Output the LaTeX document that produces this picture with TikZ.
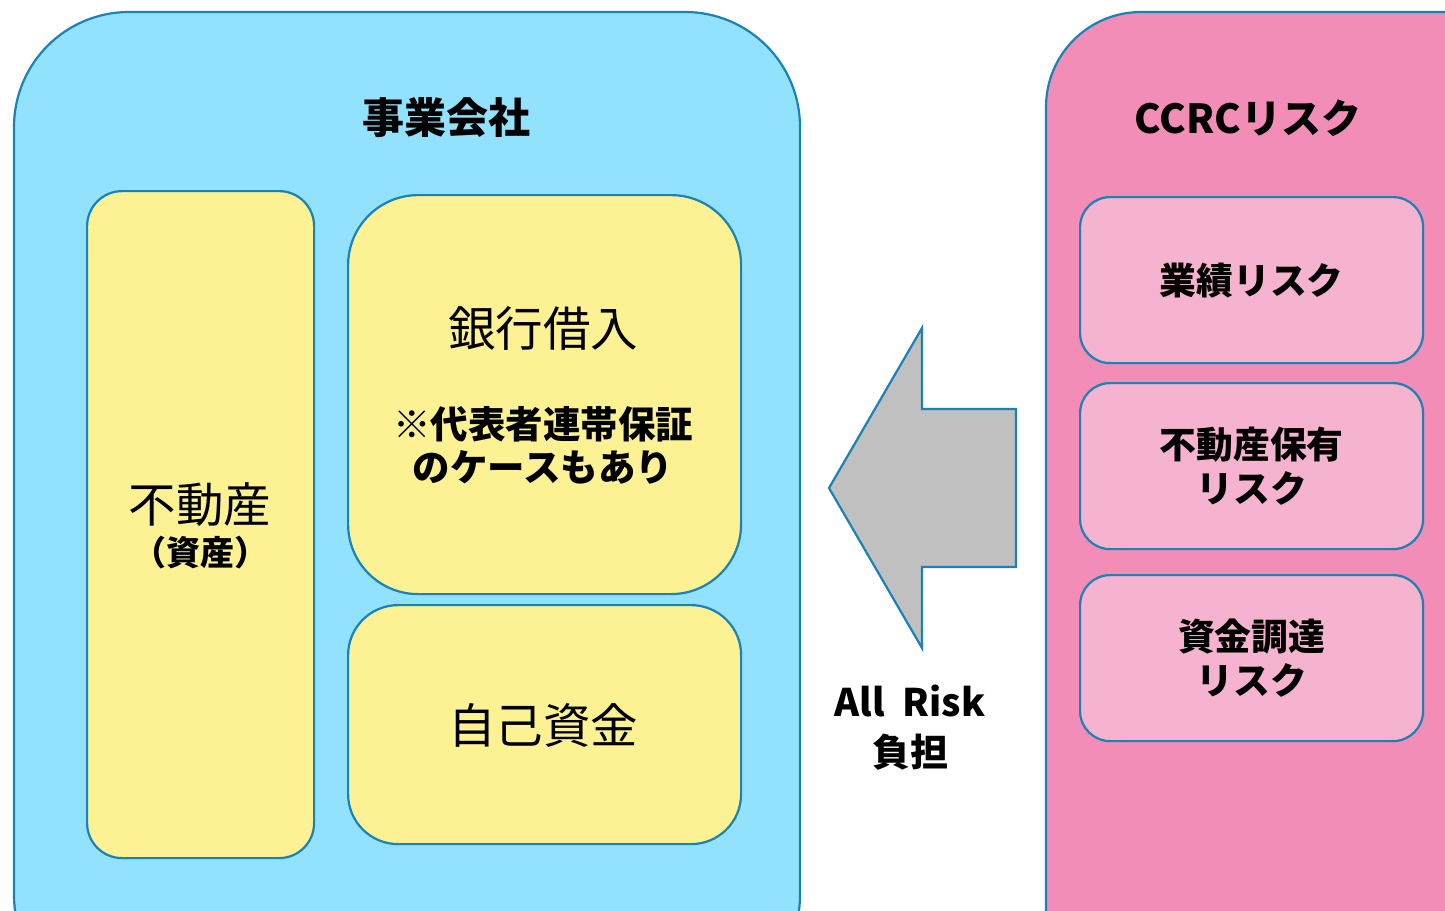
\documentclass[tikz,border=0pt]{standalone}
\usepackage{fontspec}
\setmainfont{Noto Sans CJK JP}
\definecolor{bord}{HTML}{1A82B4}
\definecolor{bluefill}{HTML}{93E2FD}
\definecolor{yel}{HTML}{FCF193}
\definecolor{pinkout}{HTML}{F28DB8}
\definecolor{pinkin}{HTML}{F5B3D0}
\definecolor{arrowgray}{HTML}{C0C0C0}
\tikzset{
  box/.style={draw=bord, line width=2.2pt},
  lbl/.style={inner sep=0pt, align=center, text=black},
}
\begin{document}
\begin{tikzpicture}[x=1pt,y=-1pt]
\useasboundingbox (0,0) rectangle (1445,910);
\clip (0,0) rectangle (1445,910);
% outer boxes
\draw[box, fill=bluefill, rounded corners=115pt] (14,12) rectangle (800,1010);
\draw[box, fill=pinkout, rounded corners=95pt] (1046,12) rectangle (1545,1010);
% left inner
\node[box, fill=yel, rounded corners=35pt, minimum width=227pt, minimum height=667pt, anchor=north west] (fudosan) at (86,190) {};
\node[box, fill=yel, rounded corners=70pt, minimum width=393pt, minimum height=399pt, anchor=north west] (ginko) at (347,194) {};
\node[box, fill=yel, rounded corners=50pt, minimum width=393pt, minimum height=239pt, anchor=north west] (jiko) at (347,604) {};
% right inner
\node[box, fill=pinkin, rounded corners=30pt, minimum width=343pt, minimum height=166pt, anchor=north west] (gyoseki) at (1079,196) {};
\node[box, fill=pinkin, rounded corners=30pt, minimum width=343pt, minimum height=166pt, anchor=north west] (hoyu) at (1079,382) {};
\node[box, fill=pinkin, rounded corners=30pt, minimum width=343pt, minimum height=166pt, anchor=north west] (chotatsu) at (1079,574) {};
% arrow
\draw[box, fill=arrowgray, line join=miter] (829,488) -- (922,328) -- (922,409) -- (1016,409) -- (1016,567) -- (922,567) -- (922,648) -- cycle;
% labels
\node[lbl, font={\fontsize{42}{42}\selectfont\bfseries}] (t1) at (446,118) {事業会社};
\node[lbl, font={\fontsize{40}{40}\selectfont\bfseries}] (t2) at (1248,118) {CCRCリスク};
\node[lbl, font={\fontsize{47.5}{48}\selectfont}] (t3) at (200,505) {不動産};
\node[lbl, font={\fontsize{34}{34}\selectfont\bfseries}] (t4) at (200,553) {（資産）};
\node[lbl, font={\fontsize{47.5}{48}\selectfont}] (t5) at (543,328) {銀行借入};
\node[lbl, font={\fontsize{37.5}{43}\selectfont\bfseries}] (t6) at (543,445) {※代表者連帯保証\\のケースもあり};
\node[lbl, font={\fontsize{47.5}{48}\selectfont}] (t7) at (543,725) {自己資金};
\node[lbl, font={\fontsize{36.8}{37}\selectfont\bfseries}] (t8) at (gyoseki.center) {業績リスク};
\node[lbl, font={\fontsize{36.8}{44}\selectfont\bfseries}] (t9) at (hoyu.center) {不動産保有\\リスク};
\node[lbl, font={\fontsize{36.8}{44}\selectfont\bfseries}] (t10) at (chotatsu.center) {資金調達\\リスク};
\node[lbl, font={\fontsize{38}{50}\selectfont\bfseries}] (t11) at (910,728) {All\ \ Risk\\負担};
\end{tikzpicture}
\end{document}
